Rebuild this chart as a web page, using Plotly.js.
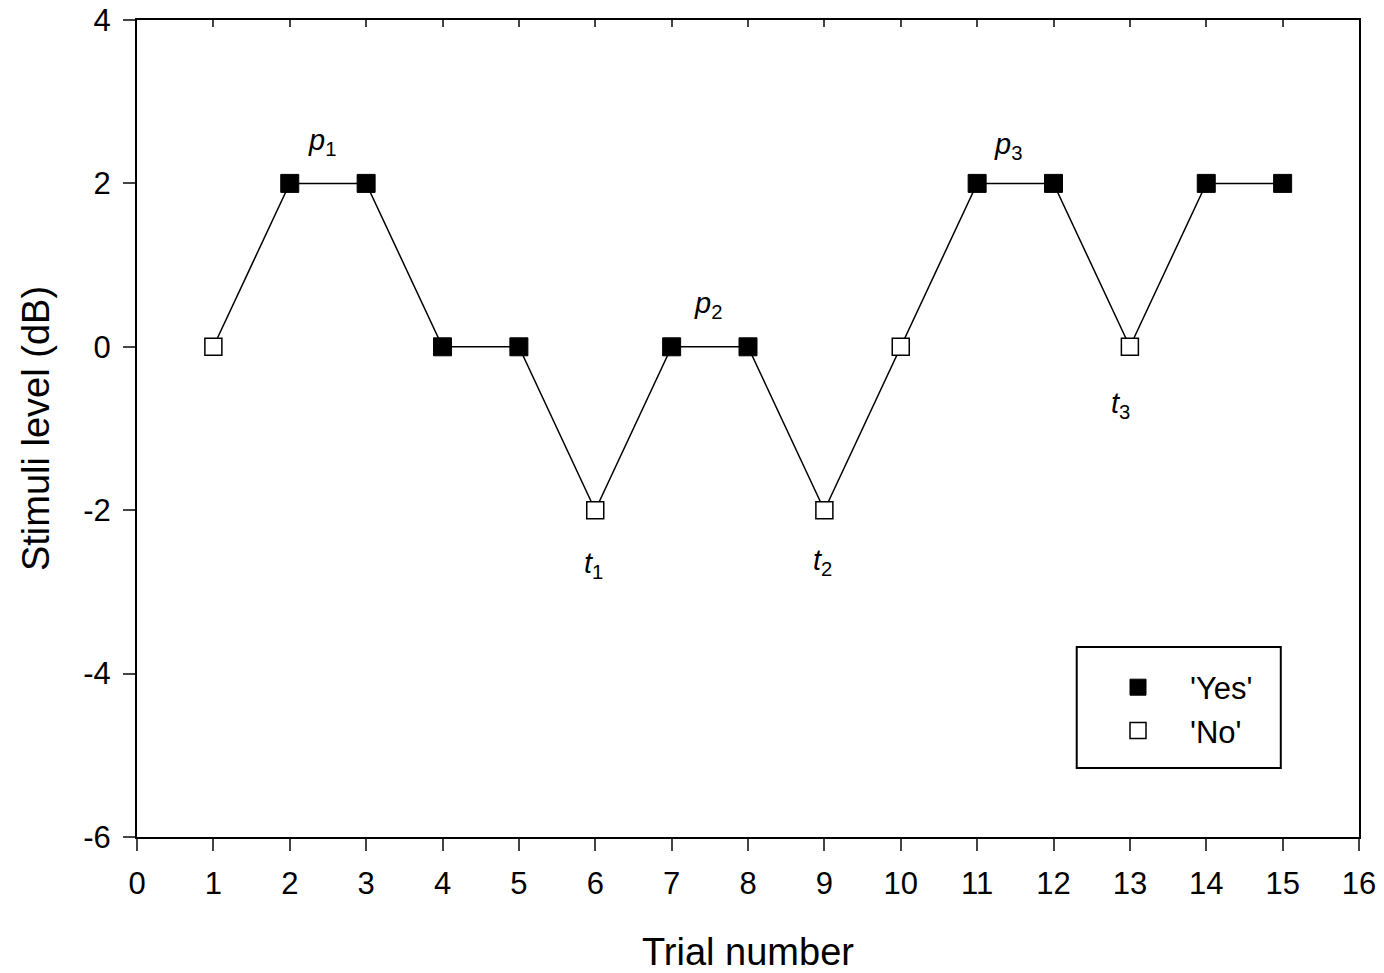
<!DOCTYPE html>
<html>
<head>
<meta charset="utf-8">
<script src="https://cdn.plot.ly/plotly-3.0.1.min.js"></script>
<style>html,body{margin:0;padding:0;background:#fff;}#chart{width:1384px;height:973px;}</style>
</head>
<body>
<div id="chart"></div>
<script>
const trials = [1,2,3,4,5,6,7,8,9,10,11,12,13,14,15];
const levels = [0,2,2,0,0,-2,0,0,-2,0,2,2,0,2,2];
const responses = ['No','Yes','Yes','Yes','Yes','No','Yes','Yes','No','No','Yes','Yes','No','Yes','Yes'];
const labelText = ['<i>p</i><sub>1</sub>','<i>p</i><sub>2</sub>','<i>p</i><sub>3</sub>','<i>t</i><sub>1</sub>','<i>t</i><sub>2</sub>','<i>t</i><sub>3</sub>'];
const labelX = [2.42, 7.48, 11.40, 5.98, 8.97, 12.88];
const labelY = [2.51, 0.51, 2.46, -2.67, -2.64, -0.71];
const xTicks = [0,1,2,3,4,5,6,7,8,9,10,11,12,13,14,15,16];
const yTicks = [-6,-4,-2,0,2,4];

const yesX = [], yesY = [], noX = [], noY = [];
trials.forEach((t,i)=>{ if(responses[i]==='Yes'){yesX.push(t);yesY.push(levels[i]);} else {noX.push(t);noY.push(levels[i]);} });

const font = 'Liberation Sans, Arial, sans-serif';
const data = [
  {x: trials, y: levels, mode:'lines', line:{color:'black', width:1.5}, showlegend:false, hoverinfo:'skip'},
  {x: yesX, y: yesY, mode:'markers', name:"'Yes'", marker:{symbol:'square', size:18, color:'black', line:{color:'black', width:1}}},
  {x: noX, y: noY, mode:'markers', name:"'No'", marker:{symbol:'square', size:17, color:'white', line:{color:'black', width:1.5}}},
  {x: [0,16], y:[0,0], xaxis:'x2', mode:'none', showlegend:false, hoverinfo:'skip'}
];

const layout = {
  width:1384, height:973,
  margin:{l:137, r:25, t:20, b:136},
  paper_bgcolor:'white', plot_bgcolor:'white',
  font:{family:font, color:'black', size:28},
  showlegend:true,
  legend:{x:0.7766, y:0.216, xanchor:'left', yanchor:'top', borderwidth:0, bgcolor:'rgba(0,0,0,0)',
    font:{family:font, size:31}, itemwidth:94, itemsizing:'trace', tracegroupgap:0},
  shapes:[{type:'rect', xref:'paper', yref:'paper', x0:0.769, x1:0.936, y0:0.0845, y1:0.2326,
    line:{color:'black', width:2}, fillcolor:'rgba(0,0,0,0)', layer:'below'}],
  xaxis:{range:[0,16], tickvals:xTicks, ticktext:xTicks.map(String), ticks:'outside', ticklen:12, tickwidth:2,
    showline:true, linecolor:'black', linewidth:2, showgrid:false, zeroline:false, ticklabelstandoff:6,
    tickfont:{family:font, size:31}, title:{text:'Trial number', font:{family:font, size:38}, standoff:38}},
  xaxis2:{range:[0,16], overlaying:'x', side:'top', tickvals:xTicks, ticks:'inside', ticklen:7, tickwidth:2,
    showticklabels:false, showline:true, linecolor:'black', linewidth:2, showgrid:false, zeroline:false},
  yaxis:{range:[-6,4], tickvals:yTicks, ticktext:yTicks.map(String), ticks:'outside', ticklen:12, tickwidth:2,
    showline:true, linecolor:'black', linewidth:2, mirror:true, showgrid:false, zeroline:false, ticklabelstandoff:6,
    tickfont:{family:font, size:31}, title:{text:'Stimuli level (dB)', font:{family:font, size:38}, standoff:22}},
  annotations: labelText.map((t,i)=>({x:labelX[i], y:labelY[i], xref:'x', yref:'y', text:t, showarrow:false,
    font:{family:font, size:29, color:'black'}}))
};
Plotly.newPlot('chart', data, layout, {staticPlot:true});
</script>
</body>
</html>
